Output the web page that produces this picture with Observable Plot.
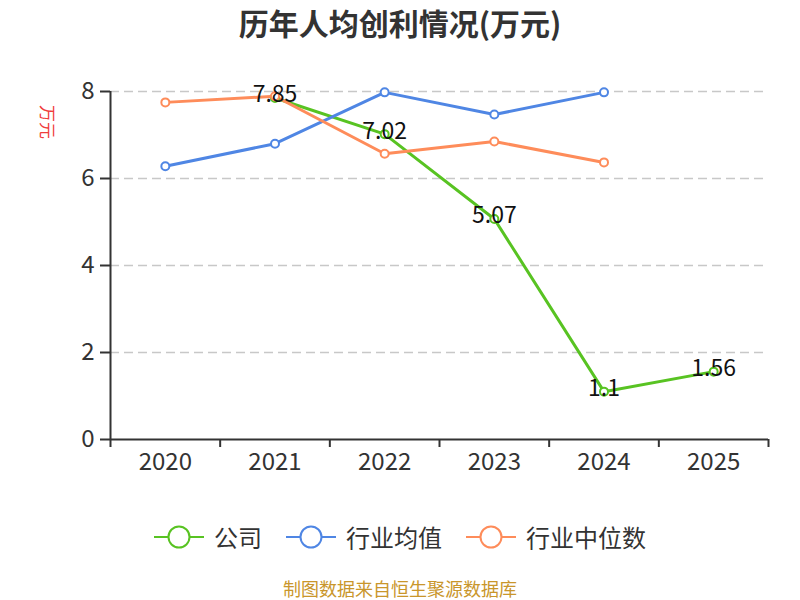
<!DOCTYPE html>
<html>
<head>
<meta charset="utf-8">
<script src="https://cdn.jsdelivr.net/npm/d3@7"></script>
<script src="https://cdn.jsdelivr.net/npm/@observablehq/plot@0.6"></script>
<style>
  body { margin: 0; background: #fff; }
  #wrap { position: relative; width: 800px; height: 600px; font-family: "Noto Sans CJK SC", "Noto Sans", sans-serif; color: #333; overflow: hidden; }
  #title { position: absolute; top: 2px; left: 0; width: 800px; text-align: center; font-size: 30px; font-weight: bold; line-height: 40px; color: #333; }
  #ylabel { position: absolute; left: 31px; top: 112px; width: 34px; height: 20px; line-height: 20px; text-align: center; font-size: 17px; color: #f03c3c; transform: rotate(90deg); }
  #chart { position: absolute; top: 50px; left: 0; }
  #legend { position: absolute; top: 522px; left: 0; width: 800px; display: flex; justify-content: center; align-items: center; font-size: 24px; line-height: 30px; color: #333; }
  .item { display: flex; align-items: center; margin: 0 12px; }
  .item svg { margin-right: 10px; }
  #caption { position: absolute; top: 577px; left: 0; width: 800px; text-align: center; font-size: 18px; line-height: 22px; color: #c9962b; }
</style>
</head>
<body>
<div id="wrap">
  <div id="title">历年人均创利情况(万元)</div>
  <div id="ylabel">万元</div>
  <div id="chart"></div>
  <div id="legend"></div>
  <div id="caption">制图数据来自恒生聚源数据库</div>
</div>
<script>
// Years on the category axis
const years = ["2020", "2021", "2022", "2023", "2024", "2025"];

// Per-capita profit, 万元 (null = no value)
const company = [null, 7.85, 7.02, 5.07, 1.1, 1.56];
const industryMean = [6.28, 6.80, 7.98, 7.47, 7.98, null];
const industryMedian = [7.75, 7.89, 6.57, 6.85, 6.37, null];

const seriesNames = ["公司", "行业均值", "行业中位数"];
const seriesColors = ["#58c322", "#4f86e4", "#fe8c5a"];
const yTicks = [0, 2, 4, 6, 8];
const gridTicks = [2, 4, 6, 8];

// Long table: one row per (series, year) that has a value
const seriesValues = [company, industryMean, industryMedian];
const rows = [];
seriesValues.forEach((vals, s) => {
  vals.forEach((v, i) => {
    if (v != null) rows.push({series: seriesNames[s], year: years[i], idx: i + 0.5, value: v});
  });
});
const companyRows = rows.filter(d => d.series === "公司");

// Category positions sit at the middle of each slot; slot edges carry the tick marks
const slotEdges = d3.range(years.length + 1);
const slotCenters = years.map((_, i) => i + 0.5);

const chart = Plot.plot({
  width: 800,
  height: 460,
  marginTop: 41,
  marginBottom: 71,
  marginLeft: 110,
  marginRight: 32,
  style: {fontFamily: '"Noto Sans CJK SC", "Noto Sans", sans-serif', background: "transparent"},
  x: {type: "linear", domain: [0, years.length], axis: null},
  y: {domain: [0, 8], axis: null},
  color: {domain: seriesNames, range: seriesColors},
  marks: [
    Plot.ruleY(gridTicks, {stroke: "#c8c8c8", strokeWidth: 1.5, strokeDasharray: "9,5"}),
    Plot.ruleY([0], {stroke: "#333", strokeWidth: 2}),
    Plot.ruleX([0], {y1: 0, y2: 8, stroke: "#333", strokeWidth: 2}),
    Plot.axisY({ticks: yTicks, label: null, tickSize: 10, tickPadding: 6, fontSize: 24, color: "#333", strokeWidth: 2, tickFormat: d => String(d)}),
    Plot.axisX({ticks: slotEdges, label: null, tickSize: 8, tickFormat: () => "", color: "#333", strokeWidth: 2}),
    Plot.axisX({ticks: slotCenters, label: null, tickSize: 0, tickPadding: 13, fontSize: 24, color: "#333", tickFormat: v => years[Math.round(v - 0.5)]}),
    Plot.lineY(rows, {x: "idx", y: "value", z: "series", stroke: "series", strokeWidth: 3}),
    Plot.dot(rows, {x: "idx", y: "value", stroke: "series", fill: "white", r: 4, strokeWidth: 2}),
    Plot.text(companyRows, {x: "idx", y: "value", text: d => String(d.value), fontSize: 23, fill: "#111", dy: -3, lineAnchor: "middle"})
  ]
});
document.getElementById("chart").appendChild(chart);

// Legend: line-with-hollow-circle swatch per series
const legend = document.getElementById("legend");
seriesNames.forEach((name, i) => {
  const item = document.createElement("div");
  item.className = "item";
  item.innerHTML = `<svg width="50" height="26"><line x1="0" x2="50" y1="13" y2="13" stroke="${seriesColors[i]}" stroke-width="2"/><circle cx="25" cy="13" r="10.5" fill="white" stroke="${seriesColors[i]}" stroke-width="2"/></svg><span>${name}</span>`;
  legend.appendChild(item);
});
</script>
</body>
</html>
